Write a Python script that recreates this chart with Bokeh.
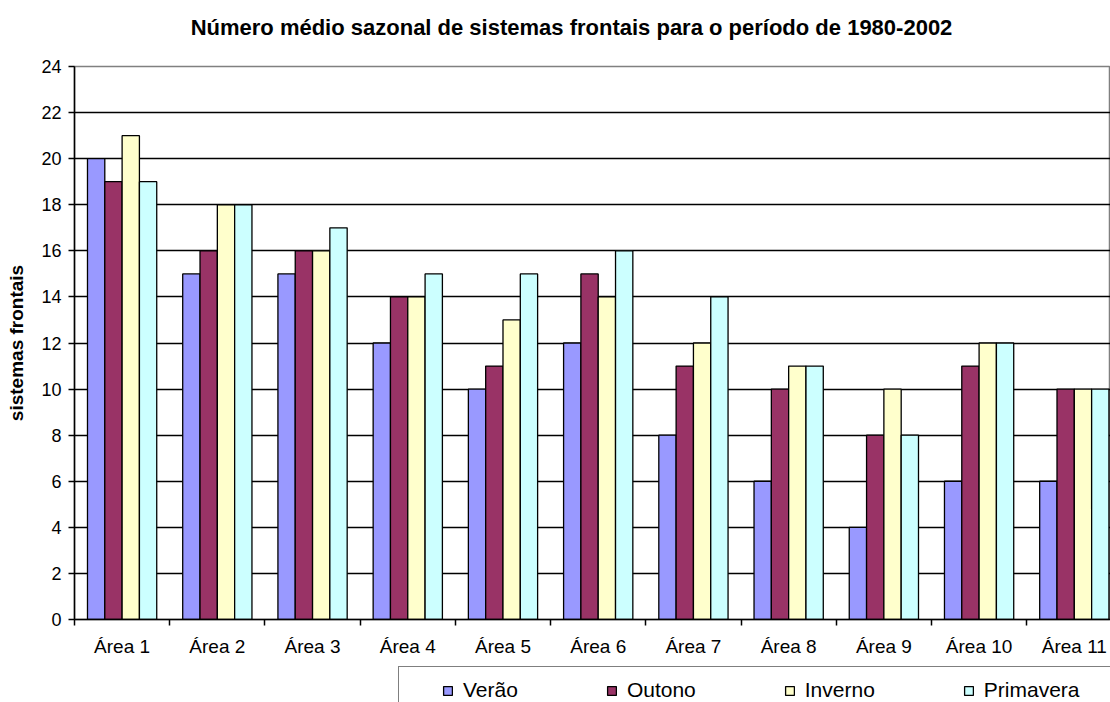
from bokeh.plotting import figure
from bokeh.models import FixedTicker, Legend, LegendItem, Range1d, ColumnDataSource, Label
from bokeh.layouts import column
from bokeh.embed import file_html
from bokeh.resources import INLINE

areas = ["Área 1", "Área 2", "Área 3", "Área 4", "Área 5", "Área 6", "Área 7", "Área 8", "Área 9", "Área 10", "Área 11"]
verao = [20, 15, 15, 12, 10, 12, 8, 6, 4, 6, 6]
outono = [19, 16, 16, 14, 11, 15, 11, 10, 8, 11, 10]
inverno = [21, 18, 16, 14, 13, 14, 12, 11, 10, 12, 10]
primavera = [19, 18, 17, 15, 15, 16, 14, 11, 8, 12, 10]
series_names = ["Verão", "Outono", "Inverno", "Primavera"]
series_vals = [verao, outono, inverno, primavera]
colors = ["#9999FF", "#993366", "#FFFFCC", "#CCFFFF"]
y_ticks = list(range(0, 25, 2))
title_text = "Número médio sazonal de sistemas frontais para o período de 1980-2002"

FONT = "Liberation Sans"


def strip(height):
    f = figure(width=1110, height=height, output_backend="svg", toolbar_location=None,
               x_range=Range1d(74, 1110), y_range=Range1d(0, height),
               min_border_left=74, min_border_right=0, min_border_top=0, min_border_bottom=0)
    f.axis.visible = False
    f.grid.visible = False
    f.outline_line_color = None
    return f


# ---------------- title strip ----------------
p0 = strip(40)
p0.add_layout(Label(x=571, y=13, text=title_text, text_font=FONT, text_font_size="22px",
                    text_font_style="bold", text_color="black",
                    text_align="center", text_baseline="middle"))

# ---------------- main chart ----------------
p = figure(width=1110, height=620, output_backend="svg", toolbar_location=None,
           x_range=Range1d(0, 10.88), y_range=Range1d(0, 24),
           min_border_left=74, min_border_right=0, min_border_top=26, min_border_bottom=41)

bw = 1 / 5.5
centers = [i + 0.5 for i in range(len(areas))]
for k, (name, vals, col) in enumerate(zip(series_names, series_vals, colors)):
    xs = [c + (k - 1.5) * bw for c in centers]
    src = ColumnDataSource(dict(x=xs, top=vals))
    p.vbar(x="x", top="top", width=bw, bottom=0, source=src,
           fill_color=col, line_color="black", line_width=1.3)

p.xaxis.ticker = FixedTicker(ticks=centers, minor_ticks=list(range(0, 12)))
p.xaxis.major_label_overrides = {c: a for c, a in zip(centers, areas)}
p.xaxis.major_tick_out = 0
p.xaxis.major_tick_in = 0
p.xaxis.minor_tick_out = 6
p.xaxis.minor_tick_in = 0
p.xaxis.minor_tick_line_color = "black"
p.xaxis.minor_tick_line_width = 1.5
p.xaxis.axis_line_color = "black"
p.xaxis.axis_line_width = 1.5
p.xaxis.major_label_text_font = FONT
p.xaxis.major_label_text_font_size = "19px"
p.xaxis.major_label_text_color = "black"
p.xaxis.major_label_standoff = 10

p.yaxis.ticker = FixedTicker(ticks=y_ticks)
p.yaxis.major_tick_out = 6
p.yaxis.major_tick_in = 0
p.yaxis.minor_tick_line_color = None
p.yaxis.axis_line_color = "black"
p.yaxis.axis_line_width = 1.5
p.yaxis.major_tick_line_color = "black"
p.yaxis.major_tick_line_width = 1.5
p.yaxis.major_label_text_font = FONT
p.yaxis.major_label_text_font_size = "18px"
p.yaxis.major_label_text_color = "black"
p.yaxis.major_label_standoff = 7
p.yaxis.axis_label = "sistemas frontais"
p.yaxis.axis_label_text_font = FONT
p.yaxis.axis_label_text_font_size = "19px"
p.yaxis.axis_label_text_font_style = "bold"
p.yaxis.axis_label_text_color = "black"
p.yaxis.axis_label_standoff = 11

p.xgrid.grid_line_color = None
p.ygrid.ticker = FixedTicker(ticks=y_ticks[1:-1])
p.ygrid.grid_line_color = "black"
p.ygrid.grid_line_width = 1.3
p.outline_line_color = "#808080"
p.outline_line_width = 1.5

# ---------------- legend strip ----------------
p2 = strip(42)

dummy = p2.vbar(x=[0], top=[0], width=0.1, fill_alpha=0, line_alpha=0, visible=False)
leg_r = [p2.vbar(x=[0], top=[0], width=0.1, fill_color=c, line_color="black",
                 line_width=1.3, visible=False)
         for c in colors]

box = Legend(items=[LegendItem(label=" ", renderers=[dummy])],
             orientation="horizontal", location=(324, -26),
             glyph_width=1, glyph_height=1, label_standoff=0, label_width=900, label_height=60,
             padding=0, margin=0, spacing=0,
             inactive_fill_alpha=0,
             border_line_color="black", border_line_width=1.5,
             background_fill_color="white", background_fill_alpha=1)
p2.add_layout(box, "center")

legend = Legend(items=[LegendItem(label=n, renderers=[r]) for n, r in zip(series_names, leg_r)],
                orientation="horizontal", location=(368, 0),
                glyph_width=11, glyph_height=11, label_standoff=10, label_width=0,
                spacing=88, padding=0, margin=0,
                inactive_fill_alpha=0,
                label_text_font=FONT, label_text_font_size="21px", label_text_color="black",
                border_line_color=None, background_fill_alpha=0)
p2.add_layout(legend, "center")

open("out.html", "w").write(file_html(column(p0, p, p2, spacing=0), INLINE))
